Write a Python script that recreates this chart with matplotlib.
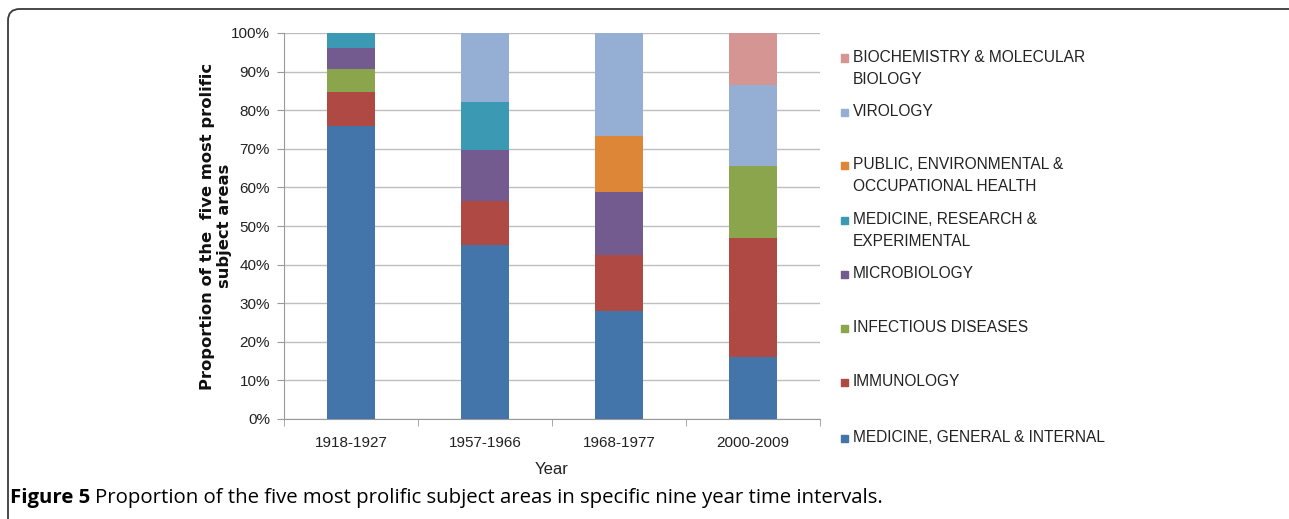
import matplotlib
matplotlib.use("Agg")
import matplotlib.pyplot as plt
from matplotlib.patches import FancyBboxPatch, Rectangle
import numpy as np

periodos = ["1918-1927", "1957-1966", "1968-1977", "2000-2009"]

areas = ["MEDICINE, GENERAL & INTERNAL", "IMMUNOLOGY", "INFECTIOUS DISEASES",
         "MICROBIOLOGY", "MEDICINE, RESEARCH &\nEXPERIMENTAL",
         "PUBLIC, ENVIRONMENTAL &\nOCCUPATIONAL HEALTH", "VIROLOGY",
         "BIOCHEMISTRY & MOLECULAR\nBIOLOGY"]

# porcentaje por periodo (de abajo a arriba)
medicina = [75.9, 45.0, 28.0, 16.0]
inmunologia = [8.9, 11.5, 14.4, 30.9]
infecciosas = [5.9, 0.0, 0.0, 18.6]
microbiologia = [5.5, 13.2, 16.5, 0.0]
med_investigacion = [3.8, 12.4, 0.0, 0.0]
salud_publica = [0.0, 0.0, 14.5, 0.0]
virologia = [0.0, 17.9, 26.6, 21.0]
bioquimica = [0.0, 0.0, 0.0, 13.5]

series = [medicina, inmunologia, infecciosas, microbiologia,
          med_investigacion, salud_publica, virologia, bioquimica]
colores = ["#4375AA", "#AE4A43", "#8BA54C", "#735A8F",
           "#3C99B4", "#DE8638", "#95AED4", "#D59592"]

SANS = ["Liberation Sans", "DejaVu Sans"]
TXT = "#222222"

W, H = 1289, 519
fig = plt.figure(figsize=(W / 100, H / 100), dpi=100)

# marco redondeado (solo se ve la esquina superior izquierda)
marco = FancyBboxPatch((8 / W, -30 / H), (W + 12 - 8) / W, (H + 30 - 9) / H,
                       boxstyle="round,pad=0,rounding_size=0.009",
                       transform=fig.transFigure, fill=False,
                       ec="#3a3a3a", lw=1.3, mutation_aspect=W / H)
fig.patches.append(marco)

ax = fig.add_axes([284 / W, 100 / H, 536 / W, 386 / H])
x = np.arange(len(periodos))
base = np.zeros(len(periodos))
for vals, col, lab in zip(series, colores, areas):
    vals = np.array(vals)
    ax.bar(x, vals, bottom=base, width=0.36, color=col, label=lab, zorder=3)
    base += vals

ax.set_xlim(-0.5, len(periodos) - 0.5)
ax.set_ylim(0, 100)
ax.set_yticks(np.arange(0, 101, 10))
ax.set_yticklabels(["%d%%" % v for v in range(0, 101, 10)],
                   family=SANS, fontsize=11, color=TXT)
ax.set_xticks(x)
ax.set_xticklabels(periodos, family=SANS, fontsize=11, color=TXT)
ax.set_xticks(np.arange(-0.5, len(periodos)), minor=True)
ax.tick_params(axis="x", which="major", length=0, pad=12)
ax.tick_params(axis="x", which="minor", length=5, color="#9a9a9a", direction="out")
ax.tick_params(axis="y", length=5, color="#9a9a9a", direction="out", pad=5)
ax.grid(axis="y", color="#BEBEBE", lw=1, zorder=0)
for s in ["top", "right"]:
    ax.spines[s].set_visible(False)
ax.spines["left"].set_color("#9a9a9a")
ax.spines["bottom"].set_color("#9a9a9a")

ax.set_xlabel("Year", family=SANS, fontsize=12, labelpad=9, color=TXT)
ax.set_ylabel("Proportion of the  five most prolific\nsubject areas",
              family="DejaVu Sans", fontweight="bold", fontsize=11.8,
              linespacing=1.2, labelpad=-1, color="#111111")

# leyenda (orden inverso, estilo Excel)
ys = [58, 112, 165, 220, 274, 328, 382, 438]
for (lab, col), yy in zip(list(zip(areas, colores))[::-1], ys):
    fig.patches.append(Rectangle((841 / W, 1 - (yy + 3.5) / H), 7 / W, 7 / H,
                                 transform=fig.transFigure, color=col))
    fig.text(853 / W, 1 - (yy - 8) / H, lab, family=SANS, fontsize=11.2,
             va="top", ha="left", linespacing=1.55, color=TXT)

# pie de figura
t1 = fig.text(10 / W, 1 - 498 / H, "Figure 5", family="Open Sans",
              fontweight="bold", fontsize=14.7, va="center", ha="left")
fig.canvas.draw()
bb = t1.get_window_extent()
fig.text((bb.x1 + 5) / W, 1 - 498 / H,
         "Proportion of the five most prolific subject areas in specific nine year time intervals.",
         family="Open Sans", fontsize=14.7, va="center", ha="left")

fig.savefig("out.png", dpi=100)
